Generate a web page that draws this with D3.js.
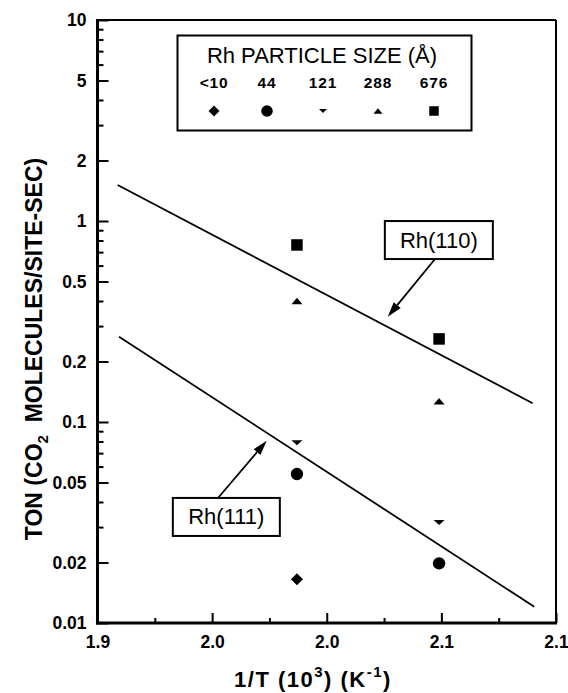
<!DOCTYPE html>
<html>
<head>
<meta charset="utf-8">
<script src="https://cdn.jsdelivr.net/npm/d3@7"></script>
<style>
  html, body { margin: 0; padding: 0; background: #fff; }
  svg { display: block; }
</style>
</head>
<body>
<svg id="chart" width="568" height="693"></svg>
<script>
// Inverse temperature of the two measurement columns (1000/T, K^-1)
const invT = [1.987, 2.049];

// Turnover numbers per Rh particle size (null = not measured)
const sizeLabels = ["<10", "44", "121", "288", "676"];
const tonLt10 = [0.0165, null];
const ton44   = [0.0551, 0.0198];
const ton121  = [0.0789, 0.0316];
const ton288  = [0.400, 0.127];
const ton676  = [0.760, 0.259];

// Single-crystal reference lines (end points)
const rh110X = [1.9088, 2.0898];
const rh110Y = [1.51, 0.124];
const rh111X = [1.9094, 2.0905];
const rh111Y = [0.2657, 0.01205];

// Axis ticks
const xTickValues = [1.90, 1.95, 2.00, 2.05, 2.10];
const xTickLabels = ["1.9", "2.0", "2.0", "2.1", "2.1"];
const xMinorValues = [1.925, 1.975, 2.025, 2.075];
const yTickValues = [0.01, 0.02, 0.05, 0.1, 0.2, 0.5, 1, 2, 5, 10];
const yTickLabels = ["0.01", "0.02", "0.05", "0.1", "0.2", "0.5", "1", "2", "5", "10"];

const FONT = "'Liberation Sans', Arial, Helvetica, sans-serif";
const svg = d3.select("#chart");

const plot = { left: 97.5, right: 556, top: 20, bottom: 623 };
const x = d3.scaleLinear().domain([1.9, 2.1]).range([plot.left, plot.right]);
const y = d3.scaleLog().domain([0.01, 10]).range([plot.bottom, plot.top]);

// minor log ticks: 2..9 within each decade, skipping labelled ones
const yMinorValues = [];
[0.01, 0.1, 1].forEach(dec => {
  for (let k = 2; k <= 9; k++) {
    const v = +(dec * k).toPrecision(3);
    if (!yTickValues.includes(v)) yMinorValues.push(v);
  }
});

// marker shapes
const symbols = {
  diamond: r => `M0,${-r}L${r},0L0,${r}L${-r},0Z`,
  circle: r => `M${r},0A${r},${r} 0 1,1 ${-r},0A${r},${r} 0 1,1 ${r},0Z`,
  triDown: (w, h) => `M${-w/2},${-h/2}L${w/2},${-h/2}L0,${h/2}Z`,
  triUp: (w, h) => `M${-w/2},${h/2}L${w/2},${h/2}L0,${-h/2}Z`,
  square: s => `M${-s/2},${-s/2}h${s}v${s}h${-s}Z`
};
const plotMarks = [
  symbols.diamond(6),
  symbols.circle(6.2),
  symbols.triDown(11, 5),
  symbols.triUp(11, 6.5),
  symbols.square(11.5)
];
const legendMarks = [
  symbols.diamond(5.5),
  symbols.circle(5.8),
  symbols.triDown(8, 4),
  symbols.triUp(9, 5.5),
  symbols.square(9.5)
];
const series = [tonLt10, ton44, ton121, ton288, ton676];

// ---- axes ----
const yAxis = svg.append("g")
  .attr("transform", `translate(${plot.left},0)`)
  .call(d3.axisLeft(y).tickValues(yTickValues).tickSize(-11).tickPadding(11)
    .tickFormat((d, i) => yTickLabels[i]));
const yMinor = svg.append("g")
  .attr("transform", `translate(${plot.left},0)`)
  .call(d3.axisLeft(y).tickValues(yMinorValues).tickSize(-6).tickFormat(""));

const xAxis = svg.append("g")
  .attr("transform", `translate(0,${plot.bottom})`)
  .call(d3.axisBottom(x).tickValues(xTickValues).tickSize(-10).tickPadding(13)
    .tickFormat((d, i) => xTickLabels[i]));
const xMinor = svg.append("g")
  .attr("transform", `translate(0,${plot.bottom})`)
  .call(d3.axisBottom(x).tickValues(xMinorValues).tickSize(-5).tickFormat(""));

[yAxis, yMinor, xAxis, xMinor].forEach(g => {
  g.select(".domain").remove();
  g.selectAll(".tick line").attr("stroke", "#000").attr("stroke-width", 2);
  g.selectAll(".tick text")
    .attr("fill", "#000")
    .attr("font-family", FONT)
    .attr("font-weight", "bold")
    .attr("font-size", 17.5);
});

// frame
const frame = svg.append("g").attr("stroke", "#000").attr("fill", "none");
frame.append("line").attr("x1", plot.left).attr("x2", plot.right)
  .attr("y1", plot.top).attr("y2", plot.top).attr("stroke-width", 2);
frame.append("line").attr("x1", plot.right).attr("x2", plot.right)
  .attr("y1", plot.top).attr("y2", plot.bottom).attr("stroke-width", 2);
frame.append("line").attr("x1", plot.left).attr("x2", plot.left)
  .attr("y1", plot.top - 1).attr("y2", plot.bottom + 1.5).attr("stroke-width", 3);
frame.append("line").attr("x1", plot.left - 1.5).attr("x2", plot.right + 1)
  .attr("y1", plot.bottom).attr("y2", plot.bottom).attr("stroke-width", 3);

// ---- fitted lines ----
const line = d3.line().x(d => x(d[0])).y(d => y(d[1]));
[[rh110X, rh110Y], [rh111X, rh111Y]].forEach(([xs, ys]) => {
  svg.append("path")
    .datum(xs.map((v, i) => [v, ys[i]]))
    .attr("d", line)
    .attr("fill", "none")
    .attr("stroke", "#000")
    .attr("stroke-width", 1.8);
});

// ---- data points ----
series.forEach((vals, si) => {
  svg.append("g").selectAll("path")
    .data(vals.map((v, i) => [invT[i], v]).filter(d => d[1] != null))
    .join("path")
    .attr("transform", d => `translate(${x(d[0])},${y(d[1])})`)
    .attr("d", plotMarks[si])
    .attr("fill", "#000");
});

// ---- legend ----
const legend = svg.append("g");
legend.append("rect")
  .attr("x", 177.5).attr("y", 35.5).attr("width", 294).attr("height", 95)
  .attr("fill", "#fff").attr("stroke", "#000").attr("stroke-width", 2);
legend.append("text")
  .attr("x", 322).attr("y", 63)
  .attr("text-anchor", "middle")
  .attr("font-family", FONT).attr("font-size", 22)
  .text("Rh PARTICLE SIZE (Å)");
const legendX = [214, 267, 323, 378, 434];
sizeLabels.forEach((lab, i) => {
  legend.append("text")
    .attr("x", legendX[i]).attr("y", 88)
    .attr("text-anchor", "middle")
    .attr("font-family", FONT).attr("font-weight", "bold").attr("font-size", 15.5)
    .attr("letter-spacing", 0.8)
    .text(lab);
  legend.append("path")
    .attr("transform", `translate(${legendX[i]},111)`)
    .attr("d", legendMarks[i])
    .attr("fill", "#000");
});

// ---- callouts ----
const callouts = [
  { text: "Rh(110)", cx: 2.0489, cy: 0.804, w: 108, h: 38, from: [435, 259], tip: [2.0266, 0.334] },
  { text: "Rh(111)", cx: 1.9562, cy: 0.0337, w: 107, h: 38, from: [218, 498], tip: [1.9738, 0.0807] }
];
callouts.forEach(c => {
  const px = x(c.cx), py = y(c.cy);
  const g = svg.append("g");
  g.append("rect")
    .attr("x", px - c.w / 2).attr("y", py - c.h / 2)
    .attr("width", c.w).attr("height", c.h)
    .attr("fill", "#fff").attr("stroke", "#000").attr("stroke-width", 2);
  g.append("text")
    .attr("x", px).attr("y", py + 7.5)
    .attr("text-anchor", "middle")
    .attr("font-family", FONT).attr("font-size", 22)
    .text(c.text);
  // arrow shaft + filled head
  const tx = x(c.tip[0]), ty = y(c.tip[1]);
  const [fx, fy] = c.from;
  const ang = Math.atan2(ty - fy, tx - fx);
  const headLen = 15, headW = 4.5;
  const bx = tx - headLen * Math.cos(ang), by = ty - headLen * Math.sin(ang);
  g.append("line")
    .attr("x1", fx).attr("y1", fy).attr("x2", bx).attr("y2", by)
    .attr("stroke", "#000").attr("stroke-width", 1.8);
  const nx = -Math.sin(ang), ny = Math.cos(ang);
  g.append("path")
    .attr("d", `M${tx},${ty}L${bx + nx * headW},${by + ny * headW}L${bx - nx * headW},${by - ny * headW}Z`)
    .attr("fill", "#000");
});

// ---- axis titles ----
const yTitle = svg.append("text")
  .attr("transform", "translate(42,349) rotate(-90)")
  .attr("text-anchor", "middle")
  .attr("font-family", FONT).attr("font-weight", "bold").attr("font-size", 23);
yTitle.append("tspan").text("TON (CO");
yTitle.append("tspan").attr("dy", 6).attr("font-size", 15).text("2");
yTitle.append("tspan").attr("dy", -6).text("\u00A0 MOLECULES/SITE-SEC)");

const xTitle = svg.append("text")
  .attr("x", 313).attr("y", 687)
  .attr("text-anchor", "middle")
  .attr("font-family", FONT).attr("font-weight", "bold").attr("font-size", 22)
  .attr("letter-spacing", 1.5);
xTitle.append("tspan").text("1/T (10");
xTitle.append("tspan").attr("dy", -10).attr("font-size", 15).text("3");
xTitle.append("tspan").attr("dy", 10).text(") (K");
xTitle.append("tspan").attr("dy", -10).attr("font-size", 15).text("-1");
xTitle.append("tspan").attr("dy", 10).text(")");
</script>
</body>
</html>
